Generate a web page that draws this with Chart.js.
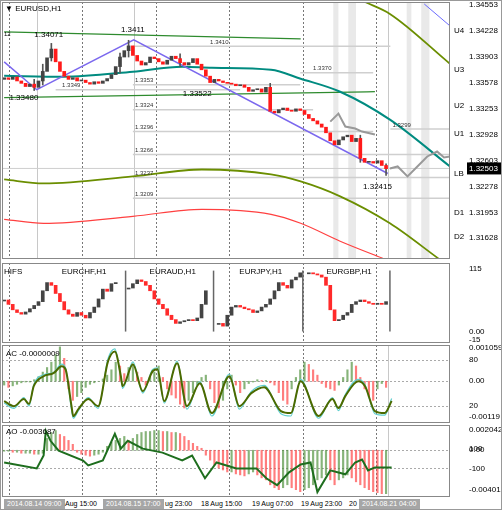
<!DOCTYPE html>
<html><head><meta charset="utf-8">
<script src="https://cdn.jsdelivr.net/npm/chart.js@4.4.1/dist/chart.umd.min.js"></script>
<style>
body{margin:0;background:#fff;font-family:"Liberation Sans",sans-serif;}
#wrap{position:relative;width:500px;height:508px;overflow:hidden;border:1px solid #999;}
.pane{position:absolute;left:0;width:500px;}
.t{position:absolute;top:498px;font-size:7px;line-height:10px;color:#000;white-space:nowrap;}
.box{background:#a6a6a6;color:#fff;padding:0 3px;}
</style></head><body><div id="wrap">
<div class="pane" style="top:0;height:259px"><canvas id="main"></canvas></div>
<div class="pane" style="top:261px;height:82px"><canvas id="hifs"></canvas></div>
<div class="pane" style="top:343px;height:80px"><canvas id="ac"></canvas></div>
<div class="pane" style="top:423px;height:74px"><canvas id="ao"></canvas></div>
<div class="t box" style="left:3px">2014.08.14 09:00</div>
<div class="t" style="left:64px">Aug 15:00</div>
<div class="t box" style="left:102px">2014.08.15 17:00</div>
<div class="t" style="left:164px">ug 23:00</div>
<div class="t" style="left:200px">18 Aug 15:00</div>
<div class="t" style="left:251px">19 Aug 07:00</div>
<div class="t" style="left:300px">19 Aug 23:00</div>
<div class="t" style="left:348px">20</div>
<div class="t box" style="left:358px">2014.08.21 04:00</div>
</div>
<script>
// EURUSD H1 candles (close of each hour, open = previous close)
const closes = [1.3364,1.3362,1.3365,1.3360,1.3357,1.3353,1.3356,1.3352,1.3360,1.3372,
  1.3389,1.3400,1.3384,1.3372,1.3366,1.3362,1.3364,1.3360,1.3361,1.3358,
  1.3356,1.3359,1.3357,1.3360,1.3363,1.3368,1.3378,1.3390,1.3398,1.3404,
  1.3392,1.3385,1.3380,1.3383,1.3390,1.3388,1.3384,1.3381,1.3386,1.3391,
  1.3388,1.3383,1.3380,1.3383,1.3388,1.3381,1.3374,1.3366,1.3358,1.3362,
  1.3360,1.3358,1.3357,1.3356,1.3354,1.3355,1.3352,1.3347,1.3349,1.3350,
  1.3346,1.3352,1.3322,1.3320,1.3324,1.3326,1.3323,1.3322,1.3325,1.3323,
  1.3318,1.3313,1.3310,1.3306,1.3302,1.3295,1.3285,1.3280,1.3286,1.3290,
  1.3292,1.3284,1.3288,1.3263,1.3258,1.3259,1.3257,1.3260,1.3254,1.3250];
const firstOpen = 1.3362;
const wickSlot = [7, 9, 11, 27, 29, 41, 62, 83, 89];
const wickLow  = [1.3348, 1.3355, 1.3385, 1.3370, 1.3390, 1.3378, 1.3345, 1.3258, 1.32415];
const wickHigh = [1.3362, 1.3381, 1.34071, 1.3395, 1.3411, 1.3394, 1.3357, 1.3292, 1.3256];

const priceTicks = [1.34553,1.34228,1.33903,1.33578,1.33253,1.32928,1.32603,1.32278,1.31953,1.31628];
const pivotNames = ["U4","U3","U2","U1","LB","D1","D2"];
const pivotVals  = [1.34228,1.3374,1.3329,1.3294,1.3244,1.3195,1.3164];
const lastPrice = 1.32503;

// moving averages / bands (slot, price)
const tealX = [0,13.8,30,41.5,48.4,62.2,69.1,78.3,89.9,103.9];
const tealY = [1.33665,1.33653,1.33715,1.33778,1.33765,1.3374,1.33628,1.33465,1.33115,1.32528];
const oliveX = [0,9.2,30,46.1,62.2,69.1,78.3,89.9,101.4];
const oliveY = [1.32365,1.32315,1.32403,1.3249,1.32428,1.3234,1.32153,1.31815,1.31365];
const redX = [0,9.2,30,46.1,62.2,69.1,78.3,88.7];
const redY = [1.31865,1.31815,1.31903,1.3199,1.31928,1.31815,1.3159,1.31365];
const oliveUpX = [84.1,89.9,103.9];
const oliveUpY = [1.3459,1.3444,1.33815];
const blueX = [97.9,103.9];
const blueY = [1.34565,1.3429];
const greenTopX = [0,69.1], greenTopY = [1.34215,1.34128];
const greenMidX = [0,86.4], greenMidY = [1.3339,1.33465];
const zigX = [0,7.6,30.2,89.4];
const zigY = [1.3384,1.3349,1.34115,1.3244];
const proj1X = [76,77.9,79.5,81.8,83.4,86.4];
const proj1Y = [1.3309,1.3319,1.33028,1.33003,1.32965,1.32928];
const proj2X = [89.9,91.7,94,96.3,98.6,100.9,102.5,103.9];
const proj2Y = [1.32503,1.32528,1.32403,1.32528,1.32653,1.32715,1.3264,1.32653];

const levelVals  = [1.34035,1.33702,1.33553,1.3349,1.3324,1.32998,1.32965,1.32677,1.3239,1.32128];
const levelText  = ["1.3410","1.3370","1.3353","1.3349","1.3324","1.3299","1.3296","1.3266","1.3237","1.3209"];
const levelFrom  = [30,69,30,12,30,90,30,30,30,30];
const levelTo    = [90,86,69,55,72,104,86,104,104,104];
const levelLabel = [48,72,30.5,13.5,30.5,90.5,30.5,30.5,30.5,30.5];

const markText = ["1.34071","1.3411","1.33480","1.33522","1.32415"];
const markX = [10.4,30,4.6,45,87];
const markY = [1.34177,1.3424,1.3339,1.3344,1.32278];

const dashedSlots = [1.15,18.2,35.5,52.5,69.6,86.6,103.7];
const solidSlots = [7.6,30.2,89.4];
const bandFrom = [76.7,80.2,93.8,97.2];
const bandTo   = [77.9,82,94.9,99.1];

// HIFS sub-panel (four pairs, gaps between groups)
const hifsClose = [58,50,40,35,32,36,42,48,55,75,90,85,70,55,40,32,28,35,30,25,35,45,60,78,74,88,90,null,null,
  80,88,95,92,85,75,60,50,42,30,22,15,18,20,22,20,25,50,75,null,null,
  15,10,30,45,48,45,42,40,35,38,45,50,60,75,90,85,80,95,100,108,null,
  108,106,104,100,85,40,20,22,30,35,50,55,58,55,52,50,52,50,55];
const hifsNames = ["EURCHF,H1","EURAUD,H1","EURJPY,H1","EURGBP,H1"];
const hifsNameX = [13.4,33.9,54.8,75.1];
const hifsSeps = [28.3,48.8,69.6];

// AC panel
const acHist = [-5,-8,-6,-4,-2,-1,-1,2,6,12,18,25,35,45,30,-10,-25,-20,-15,-8,
  -4,-2,0,3,8,15,25,20,10,18,22,12,5,-5,5,12,20,5,-10,-18,
  -22,-30,-35,-25,-15,-5,5,8,-10,-28,-35,-25,-10,8,-5,-15,-10,-3,-1,2,
  1,1,-2,-5,-15,-25,-30,-10,5,15,25,22,15,8,-3,-8,-10,-12,-5,5,
  15,25,20,5,-10,-20,-25,-10,-3,-8];
const acX = [0,2.3,4.6,5.8,6.9,9.2,11.5,13.4,14.3,15.7,16.1,17.3,19.6,21.9,24.2,25.8,27.2,27.6,30,32.3,34.6,35.7,37.3,40.3,42.6,45.6,48.4,52.5,54.8,57.6,60.6,64.5,66.8,69.1,73.3,76.5,77.9,79.5,82.5,84.1,86.4,88.7,90.3];
const acLine = [26.5,19.9,29.1,22.6,46,59.1,63,72.1,68.2,19.9,6.9,16,29.1,19.9,78.6,91.6,59.1,46,74.7,39.5,65.6,68.2,26.5,76,19.9,49.9,10.8,59.1,19.9,36.9,44.7,13.4,10.8,52.5,6.9,29.1,17.3,33,52.5,46,13.4,10.8,26.5];
const acCyan = [24,17,31,20,48,61,64,75,70,15,4,14,31,17,82,95,57,43,78,37,68,70,24,79,16,52,7,62,16,39,47,10,7,55,4,31,14,35,55,48,10,8,30];
const acZero = 52.5;
const acTicks = [95.8,80,52.5,20,5.6];
const acTickText = ["0.001059","80","0.00","20","-0.00119"];

// AO panel
const aoHist = [-1,-1,-2,-2,-3,-3,-3,-4,-4,-3,12,18,20,16,14,10,6,-2,-4,-5,
  -6,-5,-4,-2,4,8,10,12,14,10,12,16,18,19,19,20,20,19,19,18,
  18,17,14,10,7,4,2,-5,-10,-15,-18,-20,-22,-22,-24,-25,-26,-24,-22,-25,
  -28,-30,-35,-38,-40,-38,-35,-38,-40,-42,-40,-38,-35,-30,-28,-25,-30,-35,-30,-28,
  -25,-28,-32,-35,-38,-40,-42,-43,-44,-44];
const aoX = [0,7.6,9.2,9.7,10.8,12.7,18.4,19.6,23,25.8,27.2,28.8,32.3,36.9,41.5,43.8,46.8,49.5,54.1,58.8,61.1,63.6,66.4,69.1,71.4,73,76,79.5,81.8,83.4,84.8,86.4,90.3];
const aoLine = [-12.4,-18.4,-5.4,19.6,9.6,-0.4,-10.4,-15.4,-10.4,16.6,1.6,9.6,1.6,-2.4,-10.4,-5.4,-28.4,-12.4,-18.4,-18.4,-28.4,-35.4,-22.4,-14.4,-12.4,-42.4,-20.4,-24.4,-12.4,-9.4,-20.4,-17.4,-17.4];
const aoTicks = [20.6,1.6,0,-18.4,-40.4];
const aoTickText = ["0.002042","100","0.00","-100","-0.00401"];

const FONT = "Liberation Sans";
const opens = closes.map((c, i) => i ? closes[i - 1] : firstOpen);
const hifsOpen = hifsClose.map((c, i) => (i && hifsClose[i - 1] != null) ? hifsClose[i - 1] : c);

function pts(xs, ys) { return xs.map((x, i) => ({x: x, y: ys[i]})); }
function line(xs, ys, color, width, extra) {
  return Object.assign({type: "line", data: pts(xs, ys), borderColor: color, borderWidth: width,
    pointRadius: 0, cubicInterpolationMode: "monotone", fill: false}, extra || {});
}
function histColor(arr, up, down) {
  return ctx => { const i = ctx.dataIndex; return (i && arr[i] < arr[i - 1]) ? down : up; };
}

// y axis labels drawn by hand so the axis takes no extra vertical room
function baseOptions(yMin, yMax) {
  return {
    responsive: true, maintainAspectRatio: false, animation: false,
    layout: {padding: {left: 1, top: 1, bottom: 1, right: 0}},
    plugins: {legend: {display: false}, tooltip: {enabled: false}},
    scales: {
      x: {type: "linear", display: false, min: -0.5, max: 103.9, offset: false},
      y: {position: "right", min: yMin, max: yMax,
        afterFit: s => { s.width = 51; },
        grid: {display: false}, border: {display: false}, ticks: {display: false}}
    }
  };
}

function drawVerticals(chart, solids, hLines) {
  const {ctx, chartArea: a, scales: {x, y}} = chart;
  ctx.save();
  ctx.lineWidth = 1;
  ctx.strokeStyle = "#c8c8c8";
  solids.forEach(s => {
    const px = Math.round(x.getPixelForValue(s)) + 0.5;
    ctx.beginPath(); ctx.moveTo(px, a.top); ctx.lineTo(px, a.bottom); ctx.stroke();
  });
  ctx.strokeStyle = "#777";
  ctx.setLineDash([2, 2]);
  dashedSlots.forEach(s => {
    const px = Math.round(x.getPixelForValue(s)) + 0.5;
    ctx.beginPath(); ctx.moveTo(px, a.top); ctx.lineTo(px, a.bottom); ctx.stroke();
  });
  ctx.strokeStyle = "#aaa";
  (hLines || []).forEach(v => {
    const py = Math.round(y.getPixelForValue(v)) + 0.5;
    ctx.beginPath(); ctx.moveTo(a.left, py); ctx.lineTo(a.right, py); ctx.stroke();
  });
  ctx.restore();
}
function frame(chart, tickVals, tickText) {
  const {ctx, chartArea: a, scales: {y}} = chart;
  ctx.save(); ctx.strokeStyle = "#888"; ctx.lineWidth = 1;
  ctx.strokeRect(a.left + 0.5, a.top + 0.5, a.right - a.left - 1, a.bottom - a.top - 1);
  tickVals.forEach((v, i) => text(ctx, tickText[i], a.right + 19, y.getPixelForValue(v), 8, "#000"));
  ctx.restore();
}
function text(ctx, s, x, y, size, color, align, base) {
  ctx.font = size + "px " + FONT; ctx.fillStyle = color;
  ctx.textAlign = align || "left"; ctx.textBaseline = base || "middle";
  ctx.fillText(s, x, y);
}

// ---- main chart
const levelSets = levelVals.map((v, i) => line([levelFrom[i], levelTo[i]], [v, v], "#cfcfcf", 1.5, {order: 9}));
new Chart(document.getElementById("main"), {
  type: "bar",
  data: {datasets: [
    ...levelSets,
    line([-0.5, 103.9], [lastPrice, lastPrice], "#cfcfcf", 1, {order: 9}),
    line(greenTopX, greenTopY, "#2e8b2e", 1.2, {order: 8}),
    line(greenMidX, greenMidY, "#2e8b2e", 1.2, {order: 8}),
    line(redX, redY, "#ff4040", 1.2, {order: 7}),
    line(oliveX, oliveY, "#6b8e00", 1.8, {order: 7}),
    line(oliveUpX, oliveUpY, "#6b8e00", 1.8, {order: 7}),
    line(blueX, blueY, "#6a6aff", 1, {order: 7}),
    line(tealX, tealY, "#008b80", 2, {order: 7}),
    line(zigX, zigY, "#7b68ee", 1.5, {order: 6, cubicInterpolationMode: "default", tension: 0}),
    line(proj1X, proj1Y, "#999", 2, {order: 5, cubicInterpolationMode: "default"}),
    line(proj2X, proj2Y, "#999", 2, {order: 5, cubicInterpolationMode: "default"}),
    {type: "bar", order: 4, data: wickSlot.map((s, i) => ({x: s, y: [wickLow[i], wickHigh[i]]})),
      backgroundColor: "#555", barThickness: 1, grouped: false},
    {type: "bar", order: 3, data: closes.map((c, i) => ({x: i, y: [opens[i], c]})),
      backgroundColor: ctx => (ctx.raw && ctx.raw.y[1] >= ctx.raw.y[0]) ? "#444" : "#ff1a1a",
      barThickness: 3, minBarLength: 1, grouped: false}
  ]},
  options: baseOptions(1.313675, 1.3459),
  plugins: [{
    id: "mainDeco",
    beforeDatasetsDraw(chart) {
      const {ctx, chartArea: a, scales: {x}} = chart;
      ctx.save(); ctx.fillStyle = "#e9e9e9";
      bandFrom.forEach((f, i) => {
        const p0 = x.getPixelForValue(f), p1 = x.getPixelForValue(bandTo[i]);
        ctx.fillRect(p0, a.top, p1 - p0, a.bottom - a.top);
      });
      ctx.restore();
      drawVerticals(chart, solidSlots);
    },
    afterDatasetsDraw(chart) {
      const {ctx, chartArea: a, scales: {x, y}} = chart;
      ctx.save();
      levelText.forEach((t, i) => text(ctx, t, x.getPixelForValue(levelLabel[i]), y.getPixelForValue(levelVals[i]) - 1, 6, "#333", "left", "bottom"));
      markText.forEach((t, i) => text(ctx, t, x.getPixelForValue(markX[i]), y.getPixelForValue(markY[i]), 8, "#000", "center"));
      text(ctx, "\u25BC EURUSD,H1", 4, 8, 8, "#000");
      text(ctx, "12", 3, 33, 6, "#000");
      pivotNames.forEach((n, i) => text(ctx, n, a.right + 4, y.getPixelForValue(pivotVals[i]), 8, "#000"));
      frame(chart, priceTicks, priceTicks.map(v => v.toFixed(5)));
      const py = y.getPixelForValue(lastPrice);
      ctx.fillStyle = "#000"; ctx.fillRect(a.right + 17, py - 6, 34, 12);
      text(ctx, lastPrice.toFixed(5), a.right + 19, py, 8, "#fff");
      ctx.restore();
    }
  }]
});

// ---- HIFS
new Chart(document.getElementById("hifs"), {
  type: "bar",
  data: {datasets: [
    {data: hifsClose.map((c, i) => ({x: i, y: c == null ? null : [hifsOpen[i], c]})),
      backgroundColor: ctx => (ctx.raw && ctx.raw.y && ctx.raw.y[1] >= ctx.raw.y[0]) ? "#444" : "#ff2a2a",
      barThickness: 3, minBarLength: 1}
  ]},
  options: baseOptions(-21, 126),
  plugins: [{
    id: "hifsDeco",
    beforeDatasetsDraw(chart) {
      drawVerticals(chart, []);
      const {ctx, scales: {x, y}} = chart;
      ctx.save(); ctx.strokeStyle = "#666"; ctx.lineWidth = 1.5;
      hifsSeps.concat([89.9]).forEach(s => {
        const px = x.getPixelForValue(s);
        ctx.beginPath(); ctx.moveTo(px, y.getPixelForValue(112)); ctx.lineTo(px, y.getPixelForValue(0)); ctx.stroke();
      });
      ctx.restore();
    },
    afterDatasetsDraw(chart) {
      const {ctx, scales: {x}} = chart;
      text(ctx, "HIFS", 3, 10, 8, "#000");
      hifsNames.forEach((n, i) => text(ctx, n, x.getPixelForValue(hifsNameX[i]), 10, 8, "#000"));
      frame(chart, [115, 0, -15], ["115", "0.00", "-15"]);
    }
  }]
});

// ---- AC
new Chart(document.getElementById("ac"), {
  type: "bar",
  data: {datasets: [
    line(acX, acCyan, "#5fcfcf", 1.2, {order: 2}),
    line(acX, acLine, "#4b6a00", 2, {order: 1}),
    {type: "bar", order: 3, data: acHist.map((h, i) => ({x: i, y: [acZero, acZero + h]})),
      backgroundColor: histColor(acHist, "rgba(70,140,50,0.65)", "rgba(255,70,70,0.7)"), barThickness: 1.5}
  ]},
  options: baseOptions(-2.2, 100),
  plugins: [{
    id: "acDeco",
    beforeDatasetsDraw(chart) { drawVerticals(chart, [89.4], [80, 52.5, 20]); },
    afterDatasetsDraw(chart) { text(chart.ctx, "AC -0.0000009", 5, 10, 8, "#000"); frame(chart, acTicks, acTickText); }
  }]
});

// ---- AO
new Chart(document.getElementById("ao"), {
  type: "bar",
  data: {datasets: [
    line(aoX, aoLine, "#1e6e1e", 2, {order: 1, cubicInterpolationMode: "default"}),
    {type: "bar", order: 2, data: aoHist.map((h, i) => ({x: i, y: [0, h]})),
      backgroundColor: histColor(aoHist, "rgba(70,140,50,0.65)", "rgba(255,70,70,0.7)"), barThickness: 1.5}
  ]},
  options: baseOptions(-47.4, 25.6),
  plugins: [{
    id: "aoDeco",
    beforeDatasetsDraw(chart) { drawVerticals(chart, [89.4], [0, -18.4]); },
    afterDatasetsDraw(chart) { text(chart.ctx, "AO -0.003687", 5, 8, 8, "#000"); frame(chart, aoTicks, aoTickText); }
  }]
});
</script>
</body></html>
